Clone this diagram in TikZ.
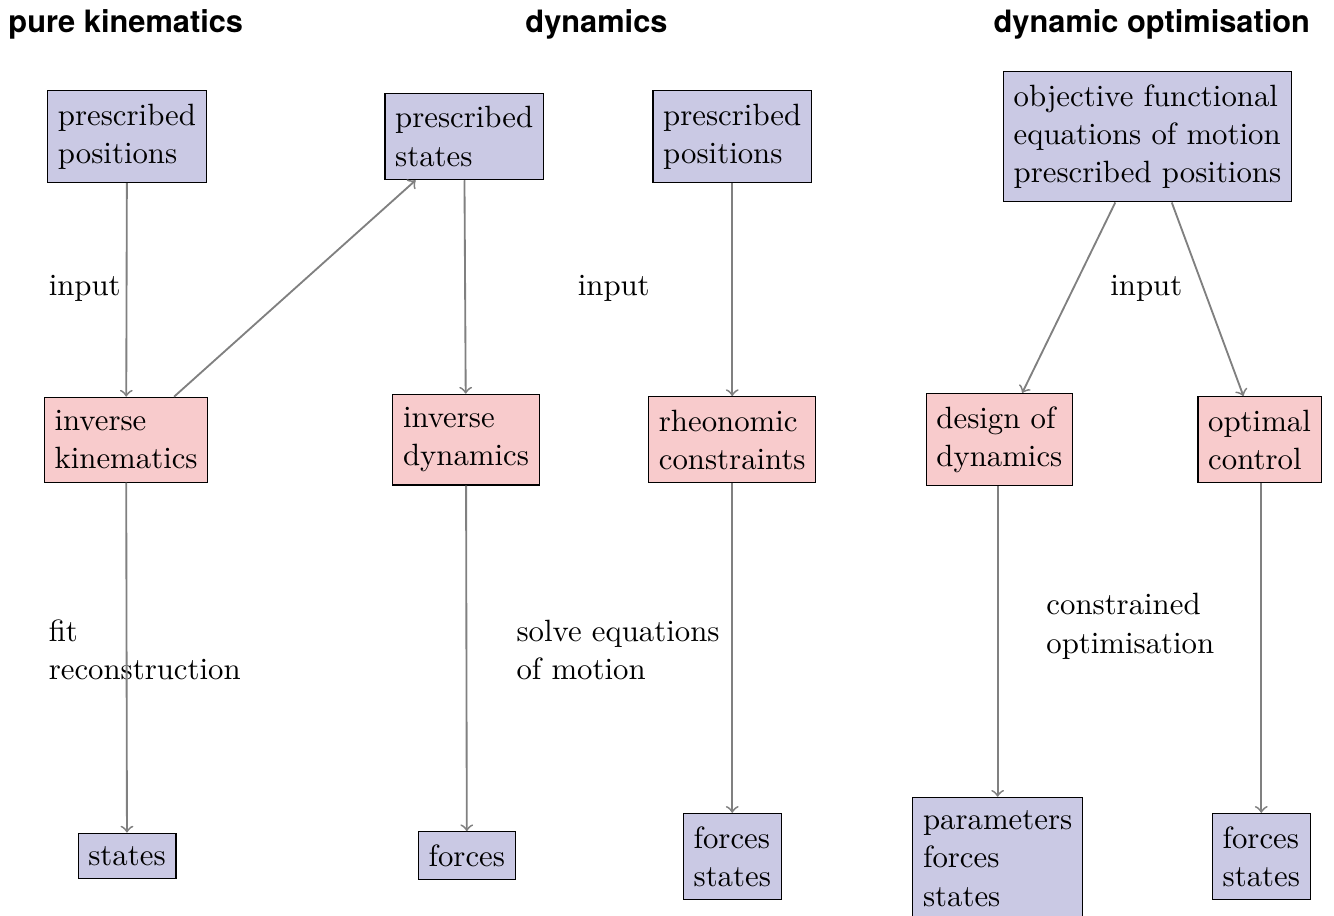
\documentclass[tikz,border=0pt]{standalone}
\usepackage{fontspec}
\newfontfamily\headfont{TeX Gyre Heros}
\usepackage{tikz}
\definecolor{inblue}{RGB}{202,201,228}
\definecolor{procred}{RGB}{248,203,204}
\tikzset{io/.style={draw=black,fill=inblue,align=left,inner xsep=3.33pt,inner ysep=4.2pt,font=\linespread{1.04}\selectfont},
         proc/.style={draw=black,fill=procred,align=left,inner xsep=3.33pt,inner ysep=4.2pt,font=\linespread{1.04}\selectfont},
         lbl/.style={align=left,anchor=west,inner sep=0pt,font=\linespread{1.04}\selectfont},
         head/.style={font=\headfont\bfseries,anchor=base,inner sep=0pt},
         flow/.style={->,draw=gray,semithick}}

\begin{document}
\begin{tikzpicture}
   \useasboundingbox (0,0) rectangle (15.23,-10.456);
   % headings
   \node[head,anchor=base west] (hkin) at (0.09,-0.37) {pure kinematics};
   \node[head] (hdyn) at (6.81,-0.37) {dynamics};
   \node[head] (hopt) at (13.15,-0.37) {dynamic optimisation};
   % pure kinematics
   \node[io] (kinpos) at (1.45,-1.56) {prescribed\\positions};
   \node[proc] (kininv) at (1.44,-5.02) {inverse\\kinematics};
   \node[io] (kinstates) at (1.45,-9.77) {states};
   \node[lbl] (kinin) at (0.55,-3.29) {input};
   \node[lbl] (kinfit) at (0.55,-7.42) {fit\\reconstruction};
   \draw[flow] (kinpos) -- (kininv);
   \draw[flow] (kininv) -- (kinstates);
   % dynamics: inverse
   \node[io] (dynstates) at (5.30,-1.56) {prescribed\\states};
   \node[proc] (dyninv) at (5.32,-5.02) {inverse\\dynamics};
   \node[io] (dynforces) at (5.33,-9.77) {forces};
   \draw[flow] (kininv) -- (dynstates);
   \draw[flow] (dynstates) -- (dyninv);
   \draw[flow] (dyninv) -- (dynforces);
   % dynamics: rheonomic
   \node[io] (rheopos) at (8.36,-1.56) {prescribed\\positions};
   \node[proc] (rheocon) at (8.36,-5.02) {rheonomic\\constraints};
   \node[io] (rheoout) at (8.36,-9.78) {forces\\states};
   \node[lbl] (dynin) at (6.59,-3.29) {input};
   \node[lbl] (dynsolve) at (5.89,-7.42) {solve equations\\of motion};
   \draw[flow] (rheopos) -- (rheocon);
   \draw[flow] (rheocon) -- (rheoout);
   % dynamic optimisation
   \node[io] (optobj) at (13.10,-1.56) {objective functional\\equations of motion\\prescribed positions};
   \node[proc] (optdesign) at (11.41,-5.02) {design of\\dynamics};
   \node[io] (optparam) at (11.39,-9.80) {parameters\\forces\\states};
   \node[proc] (optctrl) at (14.38,-5.02) {optimal\\control};
   \node[io] (optout) at (14.40,-9.78) {forces\\states};
   \node[lbl] (optin) at (12.67,-3.29) {input};
   \node[lbl] (optcon) at (11.94,-7.15) {constrained\\optimisation};
   \draw[flow] (optobj) -- (optdesign);
   \draw[flow] (optobj) -- (optctrl);
   \draw[flow] (optdesign.south -| optparam) -- (optparam);
   \draw[flow] (optctrl.south -| optout) -- (optout);
\end{tikzpicture}
\end{document}
